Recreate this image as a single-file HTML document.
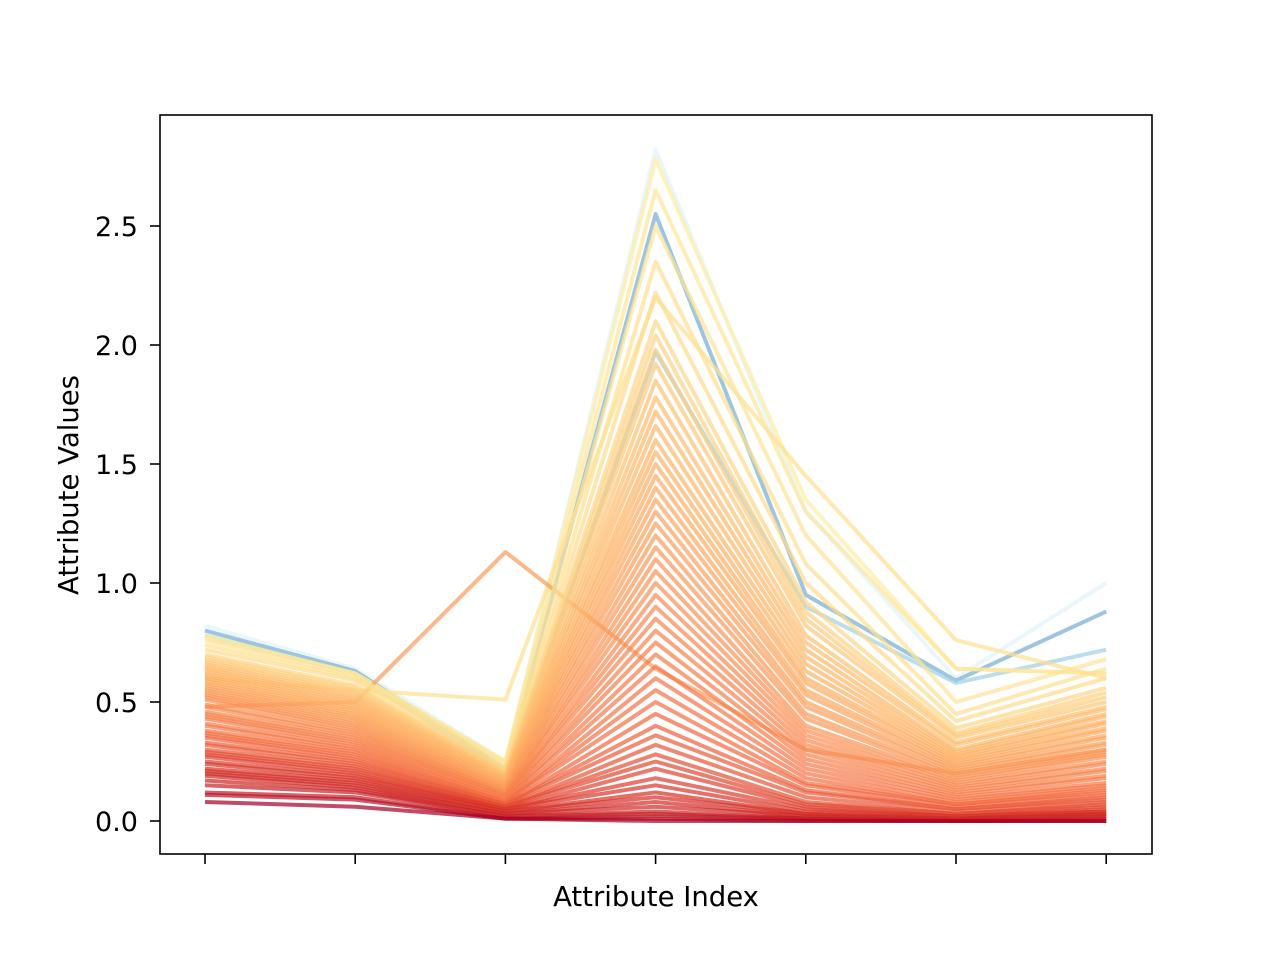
<!DOCTYPE html>
<html><head><meta charset="utf-8"><style>
body{margin:0;background:#fff;}
svg{display:block;font-family:"DejaVu Sans","Liberation Sans",sans-serif;}
</style></head><body>
<svg id="chart" width="1280" height="960" viewBox="0 0 1280 960">
<rect x="0" y="0" width="1280" height="960" fill="#fff"/>
<g id="lines"></g>
<rect x="160" y="115" width="992" height="739" fill="none" stroke="#000" stroke-width="1.6"/>
<g id="xticks"></g>
<g id="yticks"></g>
<text x="656" y="906" text-anchor="middle" font-size="27.5">Attribute Index</text>
<text transform="translate(78,485) rotate(-90)" text-anchor="middle" font-size="27.5">Attribute Values</text>
</svg>
<script>
const attributes = [0,1,2,3,4,5,6];
const yTickValues = [0.0,0.5,1.0,1.5,2.0,2.5];
const yTickLabels = ["0.0","0.5","1.0","1.5","2.0","2.5"];
const lineValues = [
[0.08,0.06,0.01,0.00,0.00,0.00,0.00],
[0.11,0.09,0.01,0.01,0.00,0.00,0.00],
[0.12,0.10,0.01,0.02,0.01,0.00,0.00],
[0.15,0.12,0.02,0.03,0.01,0.00,0.01],
[0.17,0.13,0.02,0.04,0.01,0.00,0.01],
[0.19,0.14,0.03,0.06,0.02,0.01,0.02],
[0.20,0.15,0.03,0.08,0.02,0.01,0.02],
[0.21,0.16,0.04,0.10,0.03,0.01,0.03],
[0.22,0.17,0.04,0.12,0.03,0.01,0.03],
[0.24,0.18,0.05,0.15,0.04,0.02,0.04],
[0.25,0.19,0.05,0.18,0.05,0.02,0.04],
[0.27,0.20,0.05,0.22,0.06,0.02,0.05],
[0.28,0.21,0.06,0.25,0.07,0.03,0.06],
[0.29,0.22,0.06,0.28,0.08,0.03,0.07],
[0.30,0.23,0.06,0.32,0.10,0.04,0.08],
[0.32,0.24,0.07,0.36,0.12,0.05,0.09],
[0.33,0.25,0.07,0.40,0.13,0.05,0.10],
[0.35,0.26,0.07,0.45,0.15,0.06,0.11],
[0.36,0.27,0.08,0.50,0.16,0.07,0.12],
[0.37,0.28,0.08,0.55,0.18,0.07,0.13],
[0.38,0.29,0.08,0.60,0.20,0.08,0.14],
[0.40,0.30,0.09,0.65,0.22,0.09,0.15],
[0.41,0.31,0.09,0.70,0.24,0.10,0.16],
[0.43,0.32,0.10,0.75,0.26,0.11,0.18],
[0.44,0.33,0.10,0.80,0.28,0.12,0.19],
[0.45,0.34,0.11,0.85,0.30,0.13,0.21],
[0.46,0.35,0.11,0.90,0.32,0.14,0.22],
[0.48,0.36,0.11,0.95,0.34,0.15,0.24],
[0.49,0.37,0.12,1.00,0.36,0.16,0.25],
[0.51,0.38,0.12,1.05,0.38,0.17,0.27],
[0.52,0.39,0.12,1.10,0.40,0.18,0.28],
[0.53,0.40,0.13,1.15,0.43,0.19,0.29],
[0.54,0.41,0.13,1.20,0.45,0.20,0.30],
[0.55,0.42,0.14,1.25,0.48,0.21,0.32],
[0.56,0.43,0.14,1.30,0.50,0.22,0.33],
[0.57,0.44,0.15,1.35,0.53,0.23,0.35],
[0.58,0.45,0.15,1.40,0.55,0.24,0.36],
[0.59,0.46,0.16,1.45,0.58,0.25,0.38],
[0.60,0.47,0.16,1.50,0.60,0.26,0.39],
[0.61,0.48,0.17,1.55,0.63,0.27,0.41],
[0.62,0.49,0.17,1.60,0.66,0.28,0.42],
[0.63,0.50,0.18,1.66,0.69,0.29,0.44],
[0.64,0.51,0.18,1.72,0.72,0.30,0.45],
[0.65,0.52,0.19,1.78,0.75,0.32,0.47],
[0.66,0.53,0.19,1.85,0.78,0.33,0.48],
[0.67,0.54,0.20,1.92,0.82,0.35,0.50],
[0.68,0.55,0.20,1.98,0.85,0.36,0.52],
[0.69,0.56,0.21,2.04,0.88,0.37,0.54],
[0.70,0.57,0.21,2.10,0.92,0.39,0.56],
[0.72,0.59,0.22,2.22,1.00,0.42,0.60],
[0.74,0.60,0.23,2.35,1.08,0.45,0.64],
[0.76,0.61,0.24,2.50,1.20,0.50,0.68],
[0.48,0.50,1.13,0.64,0.30,0.20,0.30],
[0.60,0.55,0.51,2.20,1.45,0.76,0.60],
[0.77,0.62,0.25,2.65,1.30,0.64,0.62],
[0.78,0.62,0.25,2.78,1.35,0.64,0.62],
[0.78,0.62,0.20,1.97,0.90,0.58,0.72],
[0.80,0.63,0.22,2.55,0.95,0.59,0.88],
[0.82,0.64,0.25,2.82,1.30,0.60,1.00]
];
const lineColorValues = [0.0,0.04,0.06,0.07,0.08,0.085,0.09,0.095,0.1,0.11,0.12,0.13,0.14,0.15,0.16,0.17,0.18,0.19,0.2,0.205,0.21,0.215,0.22,0.225,0.23,0.235,0.24,0.245,0.25,0.255,0.26,0.265,0.27,0.275,0.28,0.285,0.29,0.295,0.3,0.305,0.31,0.315,0.32,0.33,0.34,0.35,0.36,0.37,0.38,0.39,0.4,0.41,0.27,0.4,0.42,0.44,0.72,0.8,0.6];

const X0=205, XSTEP=150.2, Y0=821, YUNIT=238;
function xScale(i){return X0+i*XSTEP;}
function yScale(v){return Y0-v*YUNIT;}
const cmap=["#a50026","#d73027","#f46d43","#fdae61","#fee090","#ffffbf","#e0f3f8","#abd9e9","#74add1","#4575b4","#313695"];
function hex(h){return [1,3,5].map(i=>parseInt(h.substr(i,2),16));}
function color(t){t=Math.max(0,Math.min(1,t));const p=t*10,i=Math.min(9,Math.floor(p)),f=p-i;const a=hex(cmap[i]),b=hex(cmap[i+1]);return "rgb("+a.map((c,k)=>Math.round(c+(b[k]-c)*f)).join(",")+")";}
const NS="http://www.w3.org/2000/svg";
const lg=document.getElementById("lines");
for(let n=lineValues.length-1;n>=0;n--){
 const p=document.createElementNS(NS,"polyline");
 p.setAttribute("points",lineValues[n].map((v,i)=>xScale(attributes[i])+","+yScale(v)).join(" "));
 p.setAttribute("fill","none");
 p.setAttribute("stroke",color(lineColorValues[n]));
 p.setAttribute("stroke-width","4");
 p.setAttribute("stroke-opacity","0.7");
 p.setAttribute("stroke-linejoin","round");
 
 
 lg.appendChild(p);
}
const xg=document.getElementById("xticks");
attributes.forEach(a=>{
 const t=document.createElementNS(NS,"line");
 t.setAttribute("x1",xScale(a));t.setAttribute("x2",xScale(a));
 t.setAttribute("y1",854);t.setAttribute("y2",864);
 t.setAttribute("stroke","#000");t.setAttribute("stroke-width","1.6");
 
 
 xg.appendChild(t);
});
const yg=document.getElementById("yticks");
yTickValues.forEach((v,i)=>{
 const t=document.createElementNS(NS,"line");
 t.setAttribute("x1",150);t.setAttribute("x2",160);
 t.setAttribute("y1",yScale(v));t.setAttribute("y2",yScale(v));
 t.setAttribute("stroke","#000");t.setAttribute("stroke-width","1.6");
 
 
 yg.appendChild(t);
 const l=document.createElementNS(NS,"text");
 l.setAttribute("x",138);l.setAttribute("y",yScale(v)+10);
 l.setAttribute("text-anchor","end");l.setAttribute("font-size","27");
 l.textContent=yTickLabels[i];
 
 
 yg.appendChild(l);
});
</script>
</body></html>
